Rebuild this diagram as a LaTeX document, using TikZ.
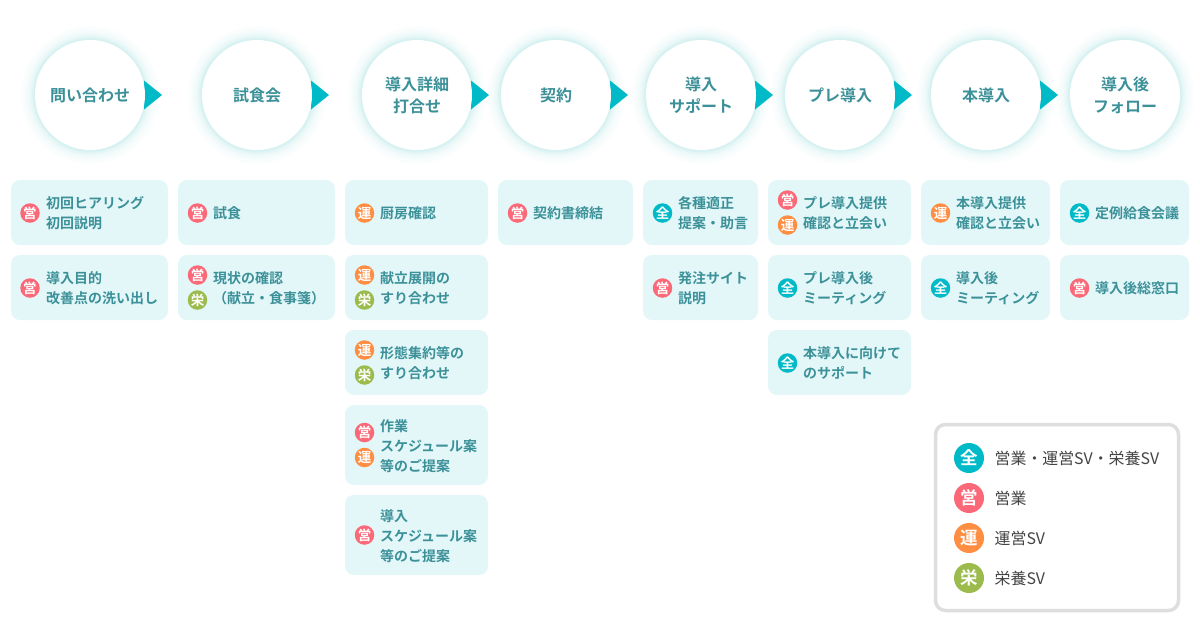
\documentclass[tikz,border=0pt]{standalone}
\usepackage{fontspec}
\setmainfont{Noto Sans CJK JP}
\newfontfamily\boldjp{Noto Sans CJK JP Bold}
\definecolor{tealtxt}{HTML}{3C9199}
\definecolor{boxfill}{HTML}{E3F7F9}
\definecolor{cAll}{HTML}{00BAC7}
\definecolor{cSales}{HTML}{FB6878}
\definecolor{cOps}{HTML}{FF8E42}
\definecolor{cNutr}{HTML}{9BBB4C}
\definecolor{legendline}{HTML}{DEDEDE}
\definecolor{legendtxt}{HTML}{444444}
\tikzset{
  card/.style={fill=boxfill,rounded corners=9pt,draw=none},
  stepcircle/.style={circle,fill=white,minimum size=110pt,inner sep=0pt,align=center,text=tealtxt,
    font=\boldjp\fontsize{16}{22}\selectfont},
  tasktext/.style={anchor=west,inner sep=0pt,align=left,text=tealtxt,yshift=-0.4pt,font=\boldjp\fontsize{14}{20}\selectfont},
  badge/.style={circle,minimum size=19.5pt,inner sep=0pt,text=white,font=\boldjp\fontsize{13.5}{14}\selectfont},
  bigbadge/.style={circle,minimum size=30pt,inner sep=0pt,text=white,font=\boldjp\fontsize{17.5}{18}\selectfont},
  legendtext/.style={anchor=west,inner sep=0pt,text=legendtxt,yshift=-0.5pt,font=\fontsize{15.9}{18}\selectfont},
  pointer/.style={fill=cAll,draw=none},
}
\newcommand{\stepc}[3]{%
  \coordinate (#1p) at (#2,95);
  \fill[pointer] ([xshift=54pt,yshift=14.5pt]#1p) -- ([xshift=72pt]#1p) -- ([xshift=54pt,yshift=-14.5pt]#1p) -- cycle;
  \node[stepcircle] (#1) at (#2,95) {#3};}
\newcommand{\card}[5]{\path[card] (#2,#3) rectangle (#4,#5); \coordinate (#1) at (#2,#3);}
\newcommand{\bdg}[5]{\node[badge,fill=#5] (#1) at (#2,#3) {#4};}
\newcommand{\tsk}[4]{\node[tasktext] (#1) at (#2,#3) {#4};}
\begin{document}
\begin{tikzpicture}[x=1pt,y=-1pt]
\useasboundingbox (0,0) rectangle (1200,633);
\fill[white] (0,0) rectangle (1200,633);
% soft glow round the step circles
\foreach \cx in {90,257,417,556,701,840,986,1125}{
  \foreach \rr in {56,56.5,57,57.5,58,58.5,59,60,61,62,63.5,65,67,69}{\fill[cAll,opacity=.01] (\cx,95) circle (\rr pt);}
}
\stepc{s1}{90}{問い合わせ}
\stepc{s2}{257}{試食会}
\stepc{s3}{417}{導入詳細\\打合せ}
\stepc{s4}{556}{契約}
\stepc{s5}{701}{導入\\サポート}
\stepc{s6}{840}{プレ導入}
\stepc{s7}{986}{本導入}
\node[stepcircle] (s8) at (1125,95) {導入後\\フォロー};
% column 1
\card{c11}{11}{180}{168}{245}\bdg{b11}{30}{213}{営}{cSales}\tsk{t11}{46}{213}{初回ヒアリング\\初回説明}
\card{c12}{11}{255}{168}{320}\bdg{b12}{30}{288}{営}{cSales}\tsk{t12}{46}{288}{導入目的\\改善点の洗い出し}
% column 2
\card{c21}{178}{180}{335}{245}\bdg{b21}{197.5}{213}{営}{cSales}\tsk{t21}{213}{213}{試食}
\card{c22}{178}{255}{335}{320}\bdg{b22a}{197.5}{275}{営}{cSales}\bdg{b22b}{197.5}{300}{栄}{cNutr}\tsk{t22}{213}{288}{現状の確認\\（献立・食事箋）}
% column 3
\card{c31}{345}{180}{488}{245}\bdg{b31}{364.5}{213}{運}{cOps}\tsk{t31}{380}{213}{厨房確認}
\card{c32}{345}{255}{488}{320}\bdg{b32a}{364.5}{275}{運}{cOps}\bdg{b32b}{364.5}{300}{栄}{cNutr}\tsk{t32}{380}{288}{献立展開の\\すり合わせ}
\card{c33}{345}{330}{488}{395}\bdg{b33a}{364.5}{350}{運}{cOps}\bdg{b33b}{364.5}{375}{栄}{cNutr}\tsk{t33}{380}{363}{形態集約等の\\すり合わせ}
\card{c34}{345}{405}{488}{485}\bdg{b34a}{364.5}{432.5}{営}{cSales}\bdg{b34b}{364.5}{457.5}{運}{cOps}\tsk{t34}{380}{446}{作業\\スケジュール案\\等のご提案}
\card{c35}{345}{495}{488}{575}\bdg{b35}{364.5}{535}{営}{cSales}\tsk{t35}{380}{536}{導入\\スケジュール案\\等のご提案}
% column 4
\card{c41}{498}{180}{633}{245}\bdg{b41}{517.5}{213}{営}{cSales}\tsk{t41}{533}{213}{契約書締結}
% column 5
\card{c51}{643}{180}{758}{245}\bdg{b51}{662.5}{213}{全}{cAll}\tsk{t51}{678}{213}{各種適正\\提案・助言}
\card{c52}{643}{255}{758}{320}\bdg{b52}{662.5}{288}{営}{cSales}\tsk{t52}{678}{288}{発注サイト\\説明}
% column 6
\card{c61}{768}{180}{911}{245}\bdg{b61a}{787.5}{200}{営}{cSales}\bdg{b61b}{787.5}{225}{運}{cOps}\tsk{t61}{803}{213}{プレ導入提供\\確認と立会い}
\card{c62}{768}{255}{911}{320}\bdg{b62}{787.5}{288}{全}{cAll}\tsk{t62}{803}{288}{プレ導入後\\ミーティング}
\card{c63}{768}{330}{911}{395}\bdg{b63}{787.5}{363}{全}{cAll}\tsk{t63}{803}{363}{本導入に向けて\\のサポート}
% column 7
\card{c71}{921}{180}{1050}{245}\bdg{b71}{940.5}{213}{運}{cOps}\tsk{t71}{956}{213}{本導入提供\\確認と立会い}
\card{c72}{921}{255}{1050}{320}\bdg{b72}{940.5}{288}{全}{cAll}\tsk{t72}{956}{288}{導入後\\ミーティング}
% column 8
\card{c81}{1060}{180}{1189}{245}\bdg{b81}{1079.5}{213}{全}{cAll}\tsk{t81}{1095}{213}{定例給食会議}
\card{c82}{1060}{255}{1189}{320}\bdg{b82}{1079.5}{288}{営}{cSales}\tsk{t82}{1095}{288}{導入後総窓口}
% legend
\draw[legendline,line width=3.5pt,rounded corners=10pt,fill=white] (935.5,424.5) rectangle (1178.5,610.5);
\node[bigbadge,fill=cAll] (l1) at (969,458) {全};
\node[bigbadge,fill=cSales] (l2) at (969,498) {営};
\node[bigbadge,fill=cOps] (l3) at (969,538) {運};
\node[bigbadge,fill=cNutr] (l4) at (969,578) {栄};
\node[legendtext] (lt1) at (994.5,458) {営業・運営SV・栄養SV};
\node[legendtext] (lt2) at (994.5,498) {営業};
\node[legendtext] (lt3) at (994.5,538) {運営SV};
\node[legendtext] (lt4) at (994.5,578) {栄養SV};
\end{tikzpicture}
\end{document}
